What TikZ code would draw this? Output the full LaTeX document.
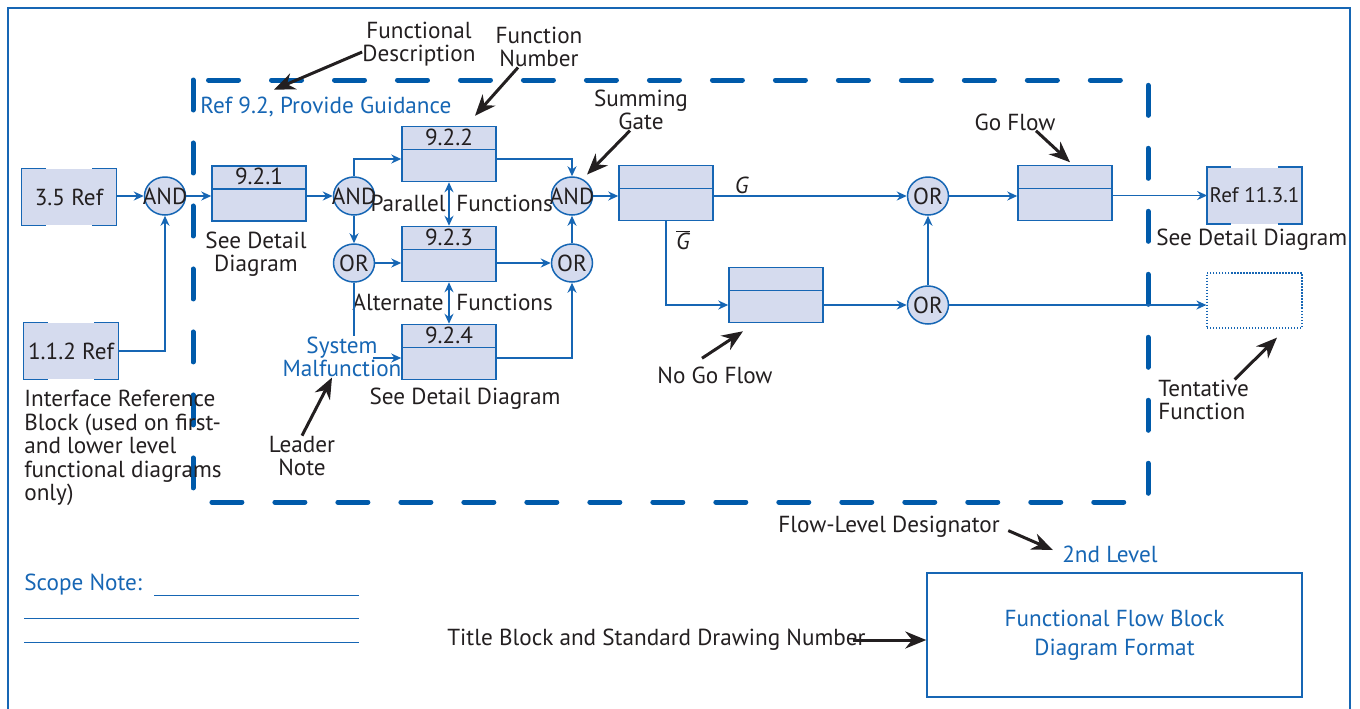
\documentclass[tikz,border=0pt]{standalone}
\usepackage{fontspec}
\setmainfont{PT Sans}
\usepackage{tikz}
\usetikzlibrary{shapes.geometric, arrows.meta, positioning, calc}

\definecolor{fblue}{RGB}{22,102,180}
\definecolor{dblue}{RGB}{0,90,170}
\definecolor{boxfill}{RGB}{213,219,238}
\definecolor{inkblack}{RGB}{35,31,32}

\begin{document}
\begin{tikzpicture}[
    x=0.02cm, y=-0.02cm,
    font=\fontsize{13.2}{13.4}\selectfont, text=inkblack,
    % 1. Core Shapes
    fbox/.style={draw=fblue, fill=boxfill, line width=0.03cm, minimum width=1.88cm, minimum height=1.1cm, inner sep=0pt,
        path picture={\draw[fblue, line width=0.03cm] ([yshift=-0.46cm]path picture bounding box.north west) -- ([yshift=-0.46cm]path picture bounding box.north east);}},
    refbox/.style={fill=boxfill, minimum width=1.88cm, minimum height=1.12cm, inner sep=0pt},
    tentbox/.style={draw=fblue, densely dotted, line width=0.025cm, minimum width=1.9cm, minimum height=1.1cm},
    gate/.style={ellipse, draw=fblue, fill=boxfill, line width=0.03cm, minimum width=0.82cm, minimum height=0.76cm, inner sep=0pt},
    num/.style={inner sep=0pt},
    txt/.style={inner sep=0pt, align=center},
    btxt/.style={txt, text=fblue},
    % 2. Routing and Process Arrows
    wire/.style={draw=fblue, line width=0.03cm},
    flow/.style={wire, -{Stealth[length=0.2cm,width=0.18cm]}},
    dflow/.style={wire, {Stealth[length=0.2cm,width=0.18cm]}-{Stealth[length=0.2cm,width=0.18cm]}},
    ann/.style={draw=inkblack, line width=0.06cm, -{Stealth[length=0.42cm,width=0.34cm]}},
    dashframe/.style={draw=dblue, line width=0.1cm, line cap=round, dash pattern=on 0.6cm off 0.66cm}
]
\useasboundingbox (0,0) rectangle (1360,708);

% ===============================
% Sheet and flow-level frame
% ===============================
\draw[wire, line width=0.05cm] (8,8) rectangle (1350,760);
\draw[dashframe] (193,80) rectangle (1148,502);

% ===============================
% Interface reference blocks
% ===============================
\node[refbox] (ref35) at (69,197) {3.5 Ref};
\node[refbox] (ref112) at (71,351) {1.1.2 Ref};
\node[gate] (and1) at (165,196) {\makebox[0pt]{AND}};
\node[txt, anchor=north west, align=left] (irb) at (24,390) {Interface Reference\\Block (used on first-\\and lower level\\functional diagrams\\only)};

% ===============================
% Functions 9.2.1 to 9.2.4
% ===============================
\node[btxt, anchor=west] (ref92) at (200,107) {Ref 9.2, Provide Guidance};
\node[fbox] (f921) at (259,193.5) {};
\node[num] (n921) at ([yshift=-0.23cm]f921.north) {9.2.1};
\node[txt] (sd1) at (256,254) {See Detail\\Diagram};
\node[gate] (and2) at (354,196) {\makebox[0pt]{AND}};
\node[gate] (or1) at (354,263) {\makebox[0pt]{OR}};
\node[fbox] (f922) at (449,154) {};
\node[num] (n922) at ([yshift=-0.23cm]f922.north) {9.2.2};
\node[fbox] (f923) at (449,254) {};
\node[num] (n923) at ([yshift=-0.23cm]f923.north) {9.2.3};
\node[fbox] (f924) at (449,352) {};
\node[num] (n924) at ([yshift=-0.23cm]f924.north) {9.2.4};
\node[txt, anchor=east] (par) at (446,203) {Parallel};
\node[txt, anchor=west] (parf) at (456,203) {Functions};
\node[txt, anchor=east] (alt) at (444,302) {Alternate};
\node[txt, anchor=west] (altf) at (456,302) {Functions};
\node[btxt] (sysmal) at (342,357) {System\\Malfunction};
\node[txt] (sd4) at (465,399) {See Detail Diagram};
\node[txt] (leader) at (302,456) {Leader\\Note};
\node[gate] (and3) at (572,196) {\makebox[0pt]{AND}};
\node[gate] (or2) at (572,263) {\makebox[0pt]{OR}};

% ===============================
% Go / No Go branches
% ===============================
\node[fbox] (fgo) at (666,193) {};
\node[fbox] (fno) at (776,295) {};
\node[gate] (or3) at (928,196) {\makebox[0pt]{OR}};
\node[gate] (or4) at (928,305) {\makebox[0pt]{OR}};
\node[fbox] (fgoflow) at (1065,193) {};
\node[refbox, font=\fontsize{12}{13}\selectfont] (ref1131) at (1254.5,195.5) {Ref 11.3.1};
\node[tentbox] (tent) at (1254.5,300.5) {};
\node[txt] (gl) at (742,185) {\textit{G}};
\node[txt] (gbar) at (683,240) {$\overline{\textit{G}}$};
\node[txt] (nogo) at (715,375) {No Go Flow};
\node[txt] (goflow) at (1015,122) {Go Flow};
\node[txt, anchor=west] (sd5) at (1156,240) {See Detail Diagram};
\node[txt, anchor=west, align=left] (tentn) at (1158,400) {Tentative\\Function};

% Callout titles
\node[txt] (fdesc) at (419,44) {Functional\\Description};
\node[txt] (fnum) at (539,47) {Function\\Number};
\node[txt] (sumg) at (641,110) {Summing\\Gate};

% ===============================
% Notes and title block
% ===============================
\node[txt] (fld) at (889,527) {Flow-Level Designator};
\node[btxt] (lvl) at (1110,554) {2nd Level};
\node[btxt, anchor=west] (scope) at (24,585) {Scope Note:};
\draw[wire, line width=0.02cm] (154,595) -- (359,595) (24,618) -- (359,618) (24,642) -- (359,642);
\node[txt, anchor=west] (tbn) at (447,640) {Title Block and Standard Drawing Number};
\node[draw=fblue, line width=0.03cm, minimum width=7.5cm, minimum height=2.48cm, text=fblue, align=center, font=\fontsize{13.2}{16.5}\selectfont] (title) at (1114.5,635) {Functional Flow Block\\Diagram Format};

% Reference block borders, open in the middle
\foreach \r in {ref35, ref112, ref1131} {
    \draw[wire] ([xshift=0.48cm]\r.north west) -| (\r.south west) -- ([xshift=0.48cm]\r.south west);
    \draw[wire] ([xshift=-0.48cm]\r.north east) -| (\r.south east) -- ([xshift=-0.48cm]\r.south east);
}

% Flow connectors
\draw[flow] (ref35.east |- and1) -- (and1.west);
\draw[flow] (ref112.east) -| (and1.south);
\draw[flow] (and1.east) -- (and1 -| f921.west);
\draw[flow] (f921.east |- and2) -- (and2.west);
\draw[flow] (and2.north) |- ([yshift=-0.1cm]f922.west);
\draw[flow] ([yshift=-0.1cm]f922.east) -| (and3.north);
\draw[flow] (and2.south) -- (or1.north);
\draw[flow] (or1.east) -- (or1 -| f923.west);
\draw[flow] (or2 -| f923.east) -- (or2.west);
\draw[flow] ([yshift=-0.12cm]f924.east) -| (or2.south);
\draw[flow] (or2.north) -- (and3.south);
\draw[wire] (or1.south) -- (or1 |- sysmal.north);
\coordinate (smin) at (373,358);
\draw[flow] (smin) -- (smin -| f924.west);
\draw[dflow] (f922.south) -- (f923.north);
\draw[dflow] (f923.south) -- (f924.north);
\draw[flow] (and3.east) -- (and3 -| fgo.west);
\draw[flow] (fgo.east |- or3) -- (or3.west);
\draw[flow] (fgo.south) |- (or4 -| fno.west);
\draw[flow] (fno.east |- or4) -- (or4.west);
\draw[flow] (or4.north) -- (or3.south);
\draw[flow] (or3.east) -- (or3 -| fgoflow.west);
\draw[flow] (fgoflow.east |- ref1131) -- (ref1131.west);
\draw[flow] (or4.east) -- (or4 -| tent.west);

% Callout arrows
\draw[ann] ([yshift=-0.16cm]fdesc.west) -- ([xshift=1.48cm,yshift=0.14cm]ref92.north west);
\draw[ann] ([xshift=-0.42cm]fnum.south) -- ([xshift=0.52cm,yshift=0.2cm]f922.north);
\draw[ann] ([xshift=-0.22cm]sumg.south) -- ([yshift=0.15cm]and3.north east);
\draw[ann] ([xshift=0.42cm]goflow.south) -- ([xshift=0.1cm,yshift=0.05cm]fgoflow.north);
\draw[ann] ([xshift=-0.26cm,yshift=0.16cm]nogo.north) -- ([xshift=-0.66cm,yshift=-0.16cm]fno.south);
\draw[ann] ([xshift=0.62cm]tentn.north) -- ([xshift=0.45cm,yshift=-0.18cm]tent.south);
\draw[ann] (leader.north) -- ([xshift=-0.2cm]sysmal.south);
\draw[ann, shorten <=0.18cm, shorten >=0.2cm] (fld.east) -- (lvl.west);
\draw[ann] ([xshift=-0.26cm]tbn.east) -- (tbn -| title.west);

\end{tikzpicture}
\end{document}
